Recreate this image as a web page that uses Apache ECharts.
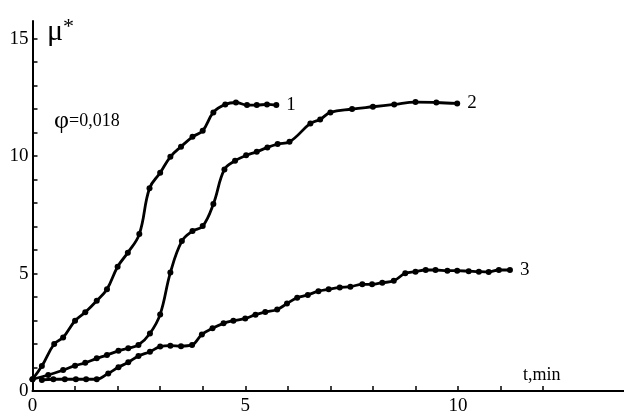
<!doctype html>
<html lang="en">
	<head>
		<meta charset="UTF-8">
		<title>mu* vs t</title>
		<script src="https://cdn.jsdelivr.net/npm/echarts@6/dist/echarts.min.js"></script>
	</head>
	<body style="margin:0">
		<div id="main" style="width: 624px; height: 416px;"></div>
		<script>
			// curve 1
			let t1 = [0, 0.22, 0.51, 0.72, 1.0, 1.24, 1.51, 1.75, 2.0, 2.24, 2.51, 2.75, 3.0, 3.24, 3.49, 3.76, 4.0, 4.25, 4.53, 4.78, 5.04, 5.27, 5.51, 5.73]
			let mu1 = [0.5, 1.06, 2.0, 2.28, 2.99, 3.35, 3.84, 4.33, 5.29, 5.89, 6.68, 8.63, 9.29, 9.97, 10.4, 10.82, 11.08, 11.86, 12.2, 12.28, 12.17, 12.17, 12.2, 12.17]
			// curve 2
			let t2 = [0, 0.37, 0.72, 1.0, 1.24, 1.51, 1.75, 2.02, 2.25, 2.49, 2.76, 3.0, 3.24, 3.51, 3.76, 4.0, 4.25, 4.51, 4.76, 5.02, 5.27, 5.52, 5.76, 6.04, 6.53, 6.76, 7.0, 7.51, 8.0, 8.5, 9.0, 9.49, 9.98]
			let mu2 = [0.5, 0.68, 0.89, 1.08, 1.2, 1.39, 1.53, 1.71, 1.82, 1.96, 2.45, 3.26, 5.04, 6.38, 6.81, 7.02, 7.96, 9.43, 9.8, 10.03, 10.18, 10.37, 10.51, 10.61, 11.39, 11.56, 11.86, 12.0, 12.1, 12.2, 12.3, 12.28, 12.24]
			// curve 3
			let t3 = [0.22, 0.49, 0.76, 1.02, 1.26, 1.51, 1.78, 2.02, 2.25, 2.49, 2.76, 3.0, 3.24, 3.49, 3.75, 3.98, 4.23, 4.49, 4.72, 5.0, 5.24, 5.47, 5.75, 5.98, 6.22, 6.47, 6.72, 6.96, 7.22, 7.47, 7.75, 7.98, 8.22, 8.49, 8.76, 9.0, 9.24, 9.47, 9.75, 9.98, 10.25, 10.49, 10.72, 10.96, 11.22]
			let mu3 = [0.47, 0.5, 0.5, 0.5, 0.5, 0.5, 0.75, 1.01, 1.22, 1.49, 1.67, 1.89, 1.93, 1.91, 1.96, 2.41, 2.67, 2.88, 2.99, 3.09, 3.25, 3.36, 3.47, 3.72, 3.97, 4.09, 4.25, 4.33, 4.41, 4.44, 4.54, 4.54, 4.61, 4.69, 5.01, 5.08, 5.15, 5.15, 5.12, 5.12, 5.1, 5.08, 5.07, 5.15, 5.15]

			let curveNames = ['1', '2', '3']
			let xTicks = [0, 1, 2, 3, 4, 5, 6, 7, 8, 9, 10, 11, 12]
			let xLabels = [0, 5, 10]
			let yTicks = [0, 1, 2, 3, 4, 5, 6, 7, 8, 9, 10, 11, 12, 13, 14, 15]
			let yLabels = [0, 5, 10, 15]

			const font = 'Liberation Serif'
			let mCharts = echarts.init(document.getElementById('main'))

			let pairs = (xs, ys) => xs.map((x, i) => [x, ys[i]])
			let makeSeries = (name, data) => ({
				name: name,
				type: 'line',
				data: data,
				smooth: 0.4,
				symbol: 'circle',
				symbolSize: 6,
				color: '#000',
				lineStyle: { color: '#000', width: 2.8 },
				endLabel: {
					show: true,
					formatter: name,
					distance: 10,
					color: '#000',
					fontFamily: font,
					fontSize: 19
				},
				animation: false
			})

			let option = {
				backgroundColor: '#fff',
				grid: { left: 32.5, right: 0, top: 21, bottom: 25 },
				xAxis: {
					type: 'value',
					min: 0,
					max: 13.9,
					interval: 1,
					splitLine: { show: false },
					axisLine: { lineStyle: { color: '#000', width: 2 } },
					axisTick: { inside: true, length: 5, customValues: xTicks, lineStyle: { color: '#000', width: 1.5 } },
					axisLabel: { customValues: xLabels, color: '#000', fontFamily: font, fontSize: 19, margin: 6 }
				},
				yAxis: {
					type: 'value',
					min: 0,
					max: 15.75,
					interval: 1,
					splitLine: { show: false },
					axisLine: { lineStyle: { color: '#000', width: 2 } },
					axisTick: { inside: true, length: 5, customValues: yTicks, lineStyle: { color: '#000', width: 1.5 } },
					axisLabel: { customValues: yLabels, color: '#000', fontFamily: font, fontSize: 19, margin: 4 }
				},
				graphic: [
					{
						type: 'text', left: 47, top: 16,
						style: {
							text: '{m|μ}{s|*}',
							rich: {
								m: { fontFamily: font, fontSize: 30, fill: '#000' },
								s: { fontFamily: font, fontSize: 22, fill: '#000', verticalAlign: 'top', padding: [0, 0, 10, 0] }
							}
						}
					},
					{
						type: 'text', left: 54, top: 108,
						style: {
							text: '{p|φ}{v|=0,018}',
							rich: {
								p: { fontFamily: font, fontSize: 26, fill: '#000' },
								v: { fontFamily: font, fontSize: 18, fill: '#000' }
							}
						}
					},
					{
						type: 'text', left: 523, top: 366,
						style: { text: 't,min', fontFamily: font, fontSize: 18, fill: '#000' }
					}
				],
				series: [
					makeSeries(curveNames[0], pairs(t1, mu1)),
					makeSeries(curveNames[1], pairs(t2, mu2)),
					makeSeries(curveNames[2], pairs(t3, mu3))
				]
			}
			mCharts.setOption(option)
		</script>
	</body>
</html>
